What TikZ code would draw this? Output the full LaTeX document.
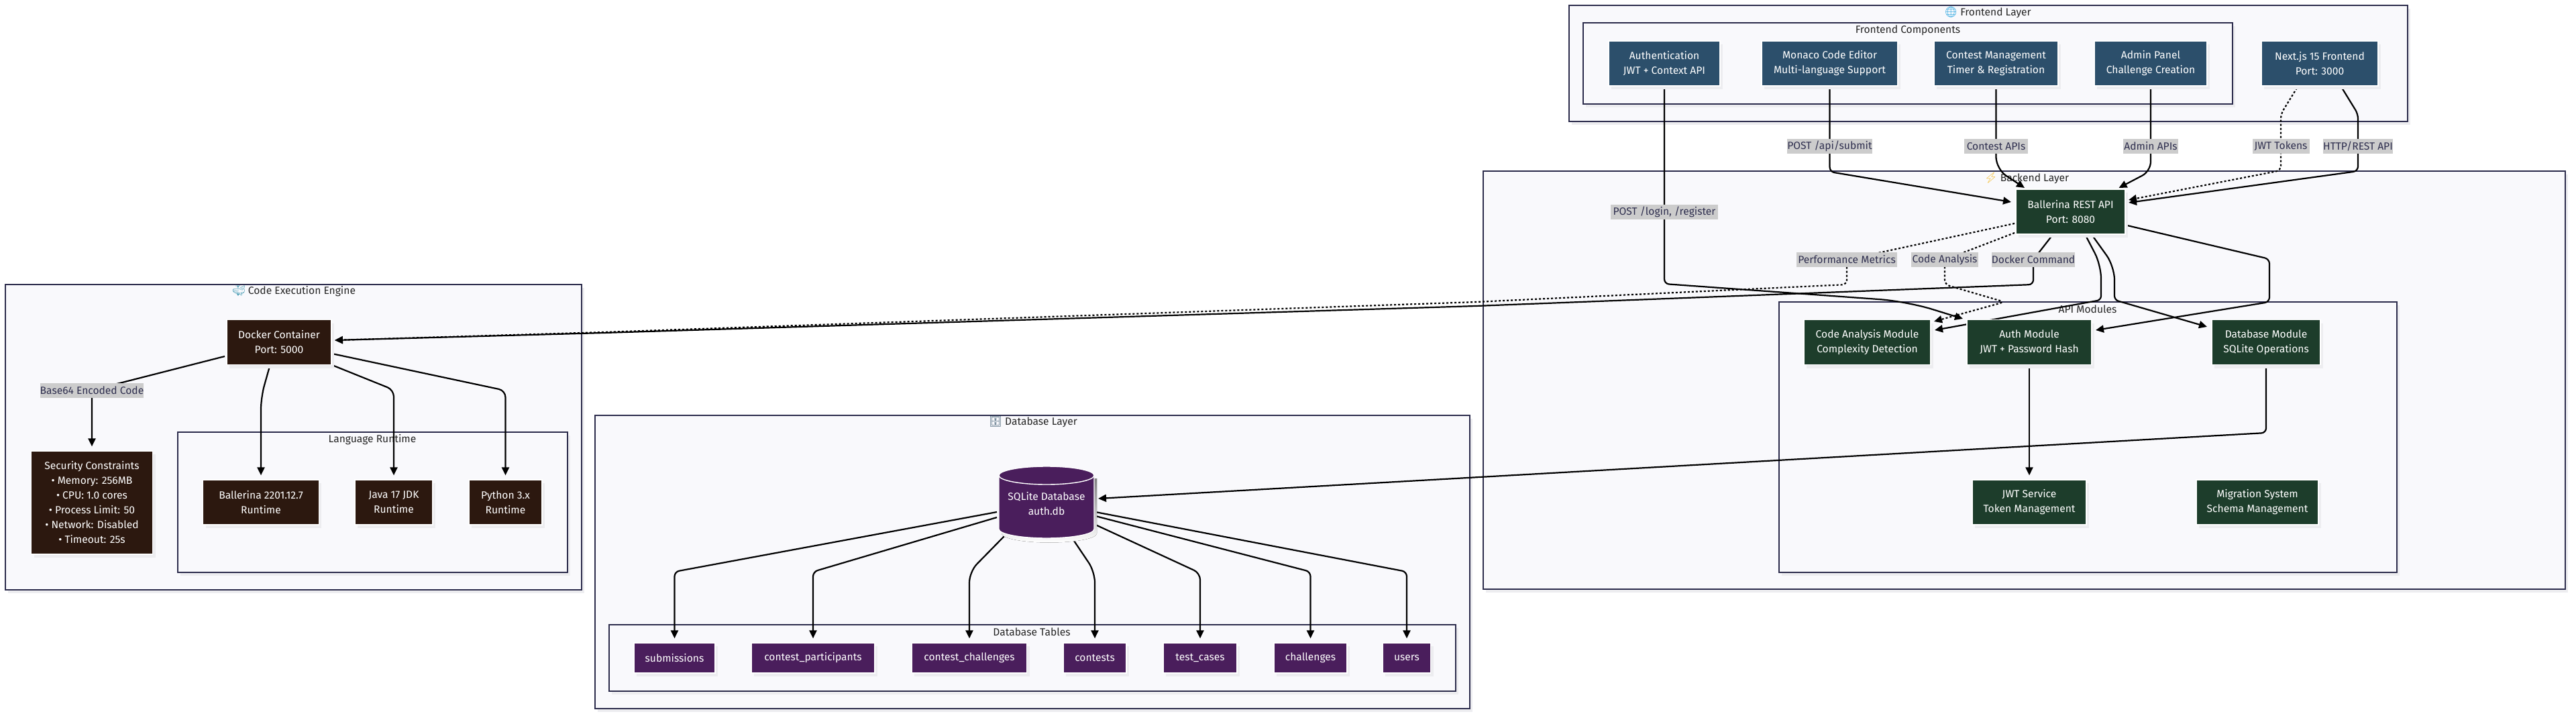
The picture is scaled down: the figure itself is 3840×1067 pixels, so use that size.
\documentclass[tikz,border=0pt]{standalone}
\usepackage{fontspec}
\setmainfont{Fira Sans}
\newfontfamily\emojifont{Noto Emoji}
\usetikzlibrary{arrows.meta,fit,shadows,backgrounds}
\definecolor{clfill}{HTML}{F9F9FC}
\definecolor{clline}{HTML}{2C2C4C}
\definecolor{shade}{HTML}{EDEDF0}
\definecolor{febox}{HTML}{2C4F6B}
\definecolor{bebox}{HTML}{1D3D2B}
\definecolor{exbox}{HTML}{2C180F}
\definecolor{dbbox}{HTML}{4A1E5C}
\definecolor{lblbg}{HTML}{CCCCCC}
\definecolor{lbltxt}{HTML}{2F2F4F}
\pgfdeclarelayer{clusters}
\pgfdeclarelayer{edges}
\pgfsetlayers{clusters,edges,main}
\tikzset{
  txt/.style={font=\fontsize{15.6}{22}\selectfont},
  box/.style={rectangle,draw=white,line width=1.2pt,inner sep=0pt,text=white,align=center,txt,
     general shadow={fill=shade,shadow xshift=4pt,shadow yshift=-5pt}},
  febx/.style={box,fill=febox,minimum height=67pt},
  bebx/.style={box,fill=bebox,minimum height=67pt},
  exbx/.style={box,fill=exbox,minimum height=67pt},
  tbbx/.style={box,fill=dbbox,minimum height=45pt},
  cluster/.style={rectangle,draw=clline,fill=clfill,line width=2pt,inner sep=0pt,
     general shadow={fill=shade,shadow xshift=4pt,shadow yshift=-5pt}},
  ctitle/.style={txt,text=black!85,inner sep=0pt},
  elabel/.style={rectangle,fill=lblbg,text=lbltxt,txt,inner sep=0pt,minimum height=22pt},
  link/.style={draw=black,line width=2.2pt,line join=round,rounded corners=7pt,-{Triangle[length=12pt,width=11pt]}},
  dotlink/.style={link,dash pattern=on 3pt off 3pt},
}
\begin{document}
\begin{tikzpicture}[x=1pt,y=-1pt]
\useasboundingbox (0,0) rectangle (3840,1067);
\begin{pgfonlayer}{clusters}
\fill[white] (0,0) rectangle (3840,1067);
\node[cluster,fit={(2339,8) (3589,181)}] (clFront) {};
\node[cluster,fit={(2360,34) (3328,155)}] (clFrontComp) {};
\node[cluster,fit={(2211,255) (3824,878)}] (clBack) {};
\node[cluster,fit={(2651.5,450) (3573,853)}] (clApi) {};
\node[cluster,fit={(8,424) (867,879)}] (clExec) {};
\node[cluster,fit={(265,644) (846,853)}] (clLang) {};
\node[cluster,fit={(887,619) (2191,1056)}] (clDb) {};
\node[cluster,fit={(908,931) (2170,1030)}] (clTables) {};
\node[ctitle] (tFront) at (2963,19) {{\emojifont\textcolor[HTML]{2AA5E0}{🌐}} Frontend Layer};
\node[ctitle] (tFrontComp) at (2844,45) {Frontend Components};
\node[ctitle] (tBack) at (3021,266) {{\emojifont\textcolor[HTML]{F5B921}{⚡}} Backend Layer};
\node[ctitle] (tApi) at (3112,461) {API Modules};
\node[ctitle] (tExec) at (438,434) {{\emojifont\textcolor[HTML]{4A9DB5}{🐳}} Code Execution Engine};
\node[ctitle] (tLang) at (555,655) {Language Runtime};
\node[ctitle] (tDb) at (1540,629) {{\emojifont\textcolor[HTML]{37566B}{🗄}} Database Layer};
\node[ctitle] (tTables) at (1538,942) {Database Tables};
\end{pgfonlayer}

% Frontend nodes
\node[febx,minimum width=166pt] (fauth) at (2481,94.5) {Authentication\\JWT + Context API};
\node[febx,minimum width=203pt] (monaco) at (2727.5,94.5) {Monaco Code Editor\\Multi-language Support};
\node[febx,minimum width=185pt] (fcontest) at (2975.5,94.5) {Contest Management\\Timer \& Registration};
\node[febx,minimum width=168pt] (fadmin) at (3206,94.5) {Admin Panel\\Challenge Creation};
\node[febx,minimum width=174pt] (next) at (3458,94.5) {Next.js 15 Frontend\\Port: 3000};
% Backend nodes
\node[bebx,minimum width=163pt] (api) at (3086.5,315.5) {Ballerina REST API\\Port: 8080};
\node[bebx,minimum width=189pt] (cam) at (2783.5,510) {Code Analysis Module\\Complexity Detection};
\node[bebx,minimum width=186pt] (authm) at (3025,510) {Auth Module\\JWT + Password Hash};
\node[bebx,minimum width=162pt] (dbm) at (3378,510) {Database Module\\SQLite Operations};
\node[bebx,minimum width=170pt] (jwt) at (3025,748.5) {JWT Service\\Token Management};
\node[bebx,minimum width=182pt] (mig) at (3365,748.5) {Migration System\\Schema Management};
% Execution nodes
\node[exbx,minimum width=156pt] (docker) at (416,510) {Docker Container\\Port: 5000};
\node[exbx,minimum width=181pt,minimum height=154pt] (sec) at (137,749) {Security Constraints\\• Memory: 256MB\\• CPU: 1.0 cores\\• Process Limit: 50\\• Network: Disabled\\• Timeout: 25s};
\node[exbx,minimum width=172.5pt] (bal) at (389,748.5) {Ballerina 2201.12.7\\Runtime};
\node[exbx,minimum width=116pt] (java) at (587,748.5) {Java 17 JDK\\Runtime};
\node[exbx,minimum width=109pt] (py) at (753.5,748.5) {Python 3.x\\Runtime};
% Database
\fill[shade] (1493,713) -- (1493,795) arc[start angle=180,end angle=360,x radius=71pt,y radius=13.5pt] -- (1635,713) -- cycle;
\path[fill=dbbox,draw=white,line width=1.4pt] (1489,708.5) -- (1489,788.5) arc[start angle=180,end angle=360,x radius=71pt,y radius=13.5pt] -- (1631,708.5) arc[start angle=0,end angle=180,x radius=71pt,y radius=13.5pt] -- cycle;
\draw[white,line width=1.4pt] (1489,708.5) arc[start angle=180,end angle=360,x radius=71pt,y radius=13.5pt];
\node[rectangle,inner sep=0pt,text=white,align=center,txt,minimum width=142pt,minimum height=107pt] (cyl) at (1560,748.5) {\rule{0pt}{16pt}SQLite Database\\auth.db};
\node[tbbx,minimum width=121pt] (tsub) at (1005.5,980.5) {submissions};
\node[tbbx,minimum width=184pt] (tcp) at (1212,980.5) {contest\_participants};
\node[tbbx,minimum width=171.5pt] (tcc) at (1445,980.5) {contest\_challenges};
\node[tbbx,minimum width=94pt] (tcon) at (1632,980.5) {contests};
\node[tbbx,minimum width=110pt] (ttc) at (1789,980.5) {test\_cases};
\node[tbbx,minimum width=109pt] (tch) at (1953.5,980.5) {challenges};
\node[tbbx,minimum width=71.5pt] (tus) at (2097,980.5) {users};
% Edge labels
\node[elabel,minimum width=127pt] (lSubmit) at (2727.5,218) {POST /api/submit};
\node[elabel,minimum width=95pt] (lContest) at (2975.5,218) {Contest APIs};
\node[elabel,minimum width=82pt] (lAdmin) at (3206,218) {Admin APIs};
\node[elabel,minimum width=85pt] (lJwt) at (3400,218) {JWT Tokens};
\node[elabel,minimum width=104pt] (lHttp) at (3515,218) {HTTP/REST API};
\node[elabel,minimum width=160pt] (lLogin) at (2481,315.5) {POST /login, /register};
\node[elabel,minimum width=150pt] (lPerf) at (2753,387) {Performance Metrics};
\node[elabel,minimum width=100pt] (lCode) at (2899,387) {Code Analysis};
\node[elabel,minimum width=122pt] (lDock) at (3031,387) {Docker Command};
\node[elabel,minimum width=154pt] (lB64) at (137,581.5) {Base64 Encoded Code};

\begin{pgfonlayer}{edges}
% Frontend to backend
\path[link] ([yshift=-3pt]fauth.south) -- (lLogin.center) -- (2481,423) [rounded corners=40pt] -- (2842,449) -- ([shift={(-99,-35)}]authm.center);
\path[link] ([yshift=-3pt]monaco.south) -- (lSubmit.center) -- (2727.5,256) -- ([shift={(-88.5,-14.5)}]api.center);
\path[link,rounded corners=18pt] ([yshift=-3pt]fcontest.south) -- (lContest.center) -- (2975.5,252) -- ([shift={(-68.5,-35.5)}]api.center);
\path[link,rounded corners=14pt] ([yshift=-3pt]fadmin.south) -- (lAdmin.center) -- (3206,255) -- ([shift={(72,-35.5)}]api.center);
\path[dotlink] ([shift={(-34,36.5)}]next.center) -- (3400,170) -- (lJwt.center) -- (3400,254) -- ([shift={(86.5,-17.5)}]api.center);
\path[link] ([shift={(33,36.5)}]next.center) -- (3515,170) -- (lHttp.center) -- (3515,255) -- ([shift={(86.5,-13.5)}]api.center);
% API to docker
\path[dotlink] ([shift={(-83.5,17.5)}]api.center) -- (lPerf.center) -- (2753,424) -- (2200,450) -- (900,495) -- ([shift={(83,-3)}]docker.center);
\path[link] ([shift={(-27.5,35.5)}]api.center) -- (lDock.center) -- (3031,424) -- (2200,456) -- (900,496) -- ([shift={(83,-3)}]docker.center);
% API to modules
\path[dotlink] ([shift={(-83.5,31.5)}]api.center) -- (lCode.center) -- (2899,424) -- (2988,450) [sharp corners] -- ([shift={(99.5,-31)}]cam.center);
\path[link] ([shift={(22.5,35.5)}]api.center) [rounded corners=20pt] -- (3132,395) [rounded corners=6pt] -- (3132,447) -- ([shift={(100.5,-18)}]cam.center);
\path[link] ([shift={(32.5,35.5)}]api.center) [rounded corners=20pt] -- (3152,397) [rounded corners=6pt] -- (3152,447) -- ([shift={(-88,-23)}]dbm.center);
\path[link] ([shift={(84.5,20.5)}]api.center) -- (3383,386) -- (3383,450) -- ([shift={(99,-18)}]authm.center);
\path[link] ([yshift=-3pt]authm.south) -- ([yshift=6pt]jwt.north);
\path[link] ([yshift=-3pt]dbm.south) -- (3378,645) -- ([shift={(77,-5.5)}]cyl.center);
% Docker
\path[link] ([shift={(-81,21)}]docker.center) -- (lB64.center) -- ([yshift=6pt]sec.north);
\path[link,rounded corners=18pt] ([shift={(-14,36)}]docker.center) -- (389,592) -- ([yshift=6pt]bal.north);
\path[link,rounded corners=10pt] ([shift={(79,34)}]docker.center) -- (587,581) -- ([yshift=6pt]java.north);
\path[link,rounded corners=10pt] ([shift={(79,17)}]docker.center) -- (753.5,582) -- ([yshift=6pt]py.north);
% Database tables
\path[link] ([shift={(-74,14.5)}]cyl.center) -- (1005.5,852) -- ([yshift=6pt]tsub.north);
\path[link] ([shift={(-74,22.5)}]cyl.center) -- (1212,852) -- ([yshift=6pt]tcp.north);
\path[link,rounded corners=16pt] ([shift={(-63,50.5)}]cyl.center) -- (1445,852) -- ([yshift=6pt]tcc.north);
\path[link,rounded corners=16pt] ([shift={(39,54.5)}]cyl.center) -- (1632,852) -- ([yshift=6pt]tcon.north);
\path[link,rounded corners=10pt] ([shift={(73,33.5)}]cyl.center) -- (1789,854) -- ([yshift=6pt]ttc.north);
\path[link] ([shift={(73,20.5)}]cyl.center) -- (1953.5,852) -- ([yshift=6pt]tch.north);
\path[link] ([shift={(73,14.5)}]cyl.center) -- (2097,852) -- ([yshift=6pt]tus.north);
\end{pgfonlayer}
\end{tikzpicture}
\end{document}
